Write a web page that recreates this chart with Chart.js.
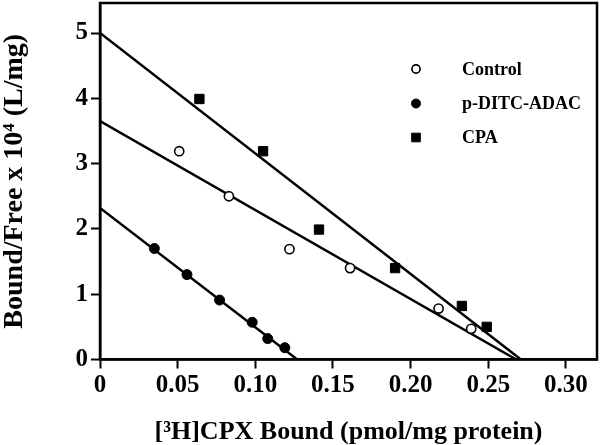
<!DOCTYPE html>
<html>
<head>
<meta charset="utf-8">
<script src="https://cdn.jsdelivr.net/npm/chart.js@4/dist/chart.umd.min.js"></script>
<style>
  html, body { margin: 0; padding: 0; background: #fff; }
  #wrap { width: 600px; height: 445px; }
</style>
</head>
<body>
<div id="wrap"><canvas id="chart-canvas"></canvas></div>
<script>
//------------------------ DATA ----------------------------

const seriesNames = ["Control", "p-DITC-ADAC", "CPA"];

// Control (open circles)
const controlX = [0.051, 0.083, 0.122, 0.161, 0.218, 0.239];
const controlY = [3.19, 2.50, 1.69, 1.40, 0.78, 0.47];

// p-DITC-ADAC (filled circles)
const ditcX = [0.035, 0.056, 0.077, 0.098, 0.108, 0.119];
const ditcY = [1.70, 1.30, 0.91, 0.57, 0.32, 0.18];

// CPA (filled squares)
const cpaX = [0.064, 0.105, 0.141, 0.190, 0.233, 0.249];
const cpaY = [3.99, 3.19, 1.99, 1.40, 0.82, 0.50];

// fitted lines: [y-intercept point, x-intercept point]
const controlFitX = [0, 0.268];
const controlFitY = [3.65, 0];
const ditcFitX = [0, 0.127];
const ditcFitY = [2.32, 0];
const cpaFitX = [0, 0.271];
const cpaFitY = [5.0, 0];

// axes
const xTickValues = [0, 0.05, 0.10, 0.15, 0.20, 0.25, 0.30];
const xTickLabels = ["0", "0.05", "0.10", "0.15", "0.20", "0.25", "0.30"];
const yTickValues = [0, 1, 2, 3, 4, 5];
const yTickLabels = ["0", "1", "2", "3", "4", "5"];
const xTitle = "[\u00B3H]CPX Bound (pmol/mg protein)";
const yTitle = "Bound/Free x 10\u2074 (L/mg)";

//------------------------ HELPERS ----------------------------

function toPoints(xs, ys) {
  return xs.map((x, i) => ({ x: x, y: ys[i] }));
}

const FONT = "'Liberation Serif', 'Times New Roman', serif";

// frame around the plot area
const framePlugin = {
  id: "frame",
  afterDraw(chart) {
    const { ctx, chartArea: a } = chart;
    ctx.save();
    ctx.strokeStyle = "#000";
    ctx.lineWidth = 2.5;
    ctx.strokeRect(a.left, a.top, a.right - a.left, a.bottom - a.top);
    ctx.restore();
  },
};

// legend drawn inside the plot, upper right
const insideLegend = {
  id: "insideLegend",
  afterDraw(chart) {
    const { ctx, chartArea: a } = chart;
    const markerX = a.left + 316;
    const textX = a.left + 362;
    const rows = [66, 100.5, 134.5];
    ctx.save();
    ctx.font = "bold 18px " + FONT;
    ctx.textBaseline = "middle";
    for (let i = 0; i < 3; i++) {
      const ds = chart.data.datasets[i];
      const y = a.top + rows[i];
      ctx.fillStyle = ds.backgroundColor;
      ctx.strokeStyle = "#000";
      ctx.lineWidth = ds.borderWidth;
      Chart.helpers.drawPoint(ctx, {
        pointStyle: ds.pointStyle,
        radius: ds.pointRadius - 0.5,
        borderWidth: ds.borderWidth,
        rotation: 0,
      }, markerX, y);
      ctx.fillStyle = "#000";
      ctx.fillText(seriesNames[i], textX, y + 1);
    }
    ctx.restore();
  },
};

//------------------------ CHART ----------------------------

const ctx = document.getElementById("chart-canvas").getContext("2d");

new Chart(ctx, {
  type: "scatter",
  data: {
    datasets: [
      {
        label: seriesNames[0],
        data: toPoints(controlX, controlY),
        pointStyle: "circle",
        pointRadius: 4.6,
        borderWidth: 1.6,
        borderColor: "#000",
        backgroundColor: "#fff",
        order: 1,
      },
      {
        label: seriesNames[1],
        data: toPoints(ditcX, ditcY),
        pointStyle: "circle",
        pointRadius: 5,
        borderWidth: 1,
        borderColor: "#000",
        backgroundColor: "#000",
        order: 1,
      },
      {
        label: seriesNames[2],
        data: toPoints(cpaX, cpaY),
        pointStyle: "rect",
        pointRadius: 6.6,
        borderWidth: 1,
        borderColor: "#000",
        backgroundColor: "#000",
        order: 1,
      },
      {
        data: toPoints(controlFitX, controlFitY),
        showLine: true,
        pointRadius: 0,
        borderColor: "#000",
        borderWidth: 2.5,
        order: 2,
      },
      {
        data: toPoints(ditcFitX, ditcFitY),
        showLine: true,
        pointRadius: 0,
        borderColor: "#000",
        borderWidth: 2.5,
        order: 2,
      },
      {
        data: toPoints(cpaFitX, cpaFitY),
        showLine: true,
        pointRadius: 0,
        borderColor: "#000",
        borderWidth: 2.5,
        order: 2,
      },
    ],
  },
  options: {
    responsive: true,
    maintainAspectRatio: false,
    animation: false,
    layout: {
      autoPadding: false, // no extra room for point overflow
      padding: { top: 3, right: 3, left: 0, bottom: 0 },
    },
    plugins: {
      legend: { display: false },
      tooltip: { enabled: false },
    },
    scales: {
      x: {
        type: "linear",
        min: 0,
        max: 0.32,
        afterFit: (scale) => {
          scale.height = 85.5;
          scale.paddingLeft = 0;
          scale.paddingRight = 0;
        },
        afterBuildTicks: (scale) => {
          scale.ticks = xTickValues.map((v) => ({ value: v }));
        },
        ticks: {
          autoSkip: false,
          maxRotation: 0,
          padding: 2,
          color: "#000",
          font: { family: FONT, size: 25, weight: "bold" },
          callback: (v) => xTickLabels[xTickValues.findIndex((t) => Math.abs(t - v) < 1e-9)],
        },
        grid: {
          drawOnChartArea: false,
          drawTicks: true,
          tickLength: 9,
          tickWidth: 2,
          tickColor: "#000",
        },
        border: { display: true, color: "#000", width: 2.5 },
        title: {
          display: true,
          text: xTitle,
          color: "#000",
          padding: 0,
          font: { family: FONT, size: 26, weight: "bold", lineHeight: 1.0 },
        },
      },
      y: {
        type: "linear",
        min: 0,
        max: 5.46,
        afterFit: (scale) => {
          scale.width = 100;
          scale.paddingTop = 0;
          scale.paddingBottom = 0;
        },
        afterBuildTicks: (scale) => {
          scale.ticks = yTickValues.map((v) => ({ value: v }));
        },
        ticks: {
          autoSkip: false,
          padding: 3,
          color: "#000",
          font: { family: FONT, size: 25, weight: "bold" },
          callback: (v) => yTickLabels[yTickValues.indexOf(v)],
        },
        grid: {
          drawOnChartArea: false,
          drawTicks: true,
          tickLength: 9,
          tickWidth: 2,
          tickColor: "#000",
        },
        border: { display: true, color: "#000", width: 2.5 },
        title: {
          display: true,
          text: yTitle,
          color: "#000",
          padding: 0,
          font: { family: FONT, size: 28, weight: "bold", lineHeight: 1.05 },
        },
      },
    },
  },
  plugins: [framePlugin, insideLegend],
});
</script>
</body>
</html>
